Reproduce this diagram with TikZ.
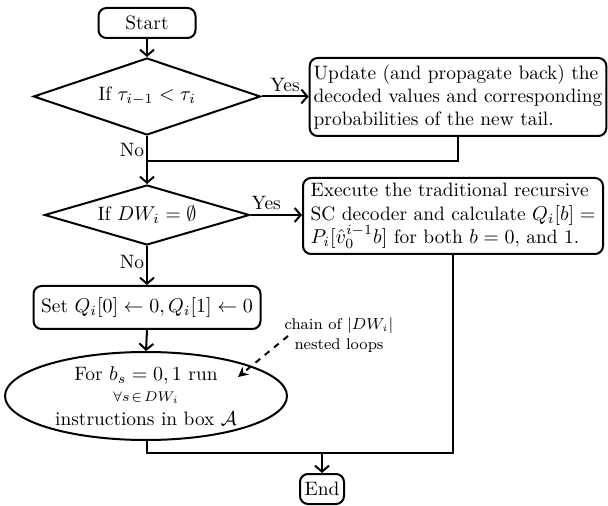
\documentclass[tikz,border=0pt]{standalone}
\usetikzlibrary{shapes.geometric,arrows.meta}
\begin{document}
\begin{tikzpicture}[x=0.5pt,y=-0.5pt,
  every node/.style={font=\fontsize{9.7pt}{11.6pt}\selectfont},
  flow/.style={line width=1pt},
  arr/.style={flow,-{Straight Barb[length=3pt,width=7pt,line width=1pt]}},
  rbox/.style={draw,line width=1pt,rounded corners=4pt,inner sep=2pt},
  dia/.style={draw,line width=1pt,diamond,inner sep=0pt},
  ell/.style={draw,line width=1pt,ellipse,inner sep=0pt},
  lbl/.style={inner sep=1pt}]
\useasboundingbox (0,0) rectangle (608,506);
\node[rbox,minimum width=48.5pt,minimum height=15pt] (start) at (147,23) {Start};
\node[dia,aspect=3,minimum width=113.5pt,minimum height=38.5pt] (d1) at (147,96.5) {If $\tau_{i-1}<\tau_i$};
\node[rbox,align=left,minimum width=147.5pt,minimum height=39pt] (upd) at (458,97)
  {Update (and propagate back) the\\decoded values and corresponding\\probabilities of the new tail.};
\coordinate (j1) at (147,161);
\node[dia,aspect=3.4,minimum width=102.5pt,minimum height=30pt] (d2) at (147,215) {If $DW_i=\emptyset$};
\node[rbox,align=left,minimum width=150pt,minimum height=38pt] (exe) at (453,216)
  {Execute the traditional recursive\\SC decoder and calculate $Q_i[b]=$\\$P_i[\hat{v}_0^{i-1}b]$ for both $b=0$, and 1.};
\node[rbox,minimum width=113.5pt,minimum height=21.5pt] (set) at (147,307.5) {Set $Q_i[0]\leftarrow 0, Q_i[1]\leftarrow 0$};
\node[ell,minimum width=141pt,minimum height=44pt,align=center] (loop) at (146,396)
  {For $b_s=0,1$ run\\[-1pt]{\scriptsize$\forall s\!\in\! DW_i$}\\[0pt]instructions in box $\mathcal{A}$};
\coordinate (j2) at (147,453);
\node[rbox,minimum width=22pt,minimum height=15pt,inner sep=1pt] (end) at (322,489) {End};
\node[align=center,font=\fontsize{7.8pt}{9.8pt}\selectfont,inner sep=0pt] (note) at (339,335) {chain of $|DW_i|$\\nested loops};
\coordinate (na) at (288,336);
\coordinate (nb) at (238,377);
% connectors
\draw[arr] (start) -- (d1);
\draw[arr] (d1.east) -- node[above,lbl,yshift=1pt]{Yes} (upd.west |- d1.east);
\draw[flow] (d1.south) -- node[left,lbl,pos=0.55]{No} (j1);
\draw[flow] (upd.south) |- (j1);
\draw[arr] (j1) -- (d2.north);
\draw[arr] (d2.east) -- node[above,lbl,yshift=1pt,xshift=-5pt]{Yes} (exe.west |- d2.east);
\draw[arr] (d2.south) -- node[left,lbl,pos=0.4]{No} (set.north);
\draw[arr] (set.south) -- (loop.north);
\draw[flow] (loop.south -| j2) -- (j2) -| (exe.south);
\draw[arr] (end.north |- j2) -- (end.north);
\draw[flow,dashed,-{Stealth[length=5pt,width=5pt]}] (na) -- (nb);
\end{tikzpicture}
\end{document}
